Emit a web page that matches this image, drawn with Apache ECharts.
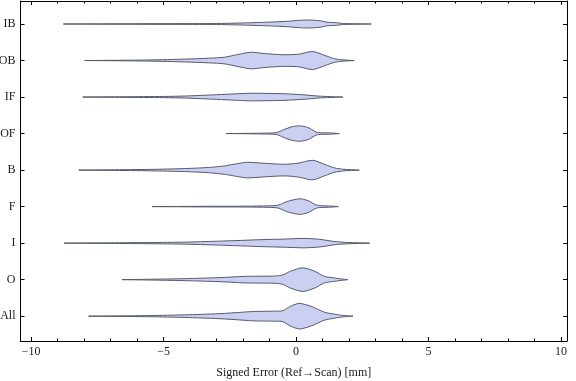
<!DOCTYPE html>
<html>
<head>
<meta charset="utf-8">
<script src="https://cdn.jsdelivr.net/npm/echarts@6/dist/echarts.min.js"></script>
<style>html,body{margin:0;padding:0;background:#fff}#c{width:576px;height:381px}</style>
</head>
<body>
<div id="c"></div>
<script>
// categories bottom -> top
const categories = ['All', 'O', 'I', 'F', 'B', 'OF', 'IF', 'OB', 'IB'];
const xTicks = [-10, -5, 0, 5, 10];
const xMinorTicks = [-10,-9,-8,-7,-6,-5,-4,-3,-2,-1,0,1,2,3,4,5,6,7,8,9,10];

// violin outlines: error positions (mm) and estimated density (relative half-width)
const allX = [-7.83, -6.5, -5.5, -4.2, -2.9, -2.0, -1.6, -0.8, -0.5, -0.2, 0.13, 0.6, 1.07, 1.45, 1.75, 2.15];
const allD = [0, 0.3, 0.6, 1.3, 2.5, 4.0, 4.7, 5.0, 5.5, 10, 12.8, 9.5, 4.0, 2.0, 0.8, 0];
const oX = [-6.57, -5.5, -4.2, -2.9, -2.0, -1.6, -0.8, -0.5, -0.2, 0.25, 0.7, 1.07, 1.45, 1.7, 1.96];
const oD = [0, 0.4, 1.0, 2.0, 3.2, 3.4, 3.6, 4.7, 8.5, 11.8, 8.5, 3.3, 1.7, 0.8, 0];
const iX = [-8.75, -7, -5.5, -4.2, -3, -2, -1.3, -0.5, 0.3, 0.9, 1.45, 2.0, 2.78];
const iD = [0, 0.3, 0.6, 1.0, 1.9, 2.8, 3.5, 4.0, 4.7, 3.8, 1.6, 0.6, 0];
const fX = [-5.43, -3.5, -2, -1, -0.66, -0.35, 0.13, 0.45, 0.76, 0.95, 1.3, 1.6];
const fD = [0, 0.3, 0.4, 0.8, 1.5, 5.0, 7.8, 6.0, 1.6, 0.9, 0.6, 0];
const bX = [-8.2, -7, -5.5, -4.2, -3.3, -2.7, -2.2, -1.83, -1.2, -0.45, 0.1, 0.63, 1.1, 1.45, 1.8, 2.39];
const bD = [0, 0.3, 0.7, 1.5, 2.6, 4.2, 6.5, 7.8, 6.8, 5.8, 7.0, 9.8, 5.5, 2.2, 0.8, 0];
const ofX = [-2.63, -1.5, -0.9, -0.7, -0.45, -0.15, 0.13, 0.4, 0.6, 0.76, 0.95, 1.3, 1.64];
const ofD = [0, 0.3, 0.6, 1.2, 4.0, 6.8, 7.7, 6.5, 4.0, 1.5, 0.8, 0.6, 0];
const ifX = [-8.05, -6.5, -5, -4.2, -3, -2.2, -1.7, -1, -0.45, 0.3, 0.83, 1.2, 1.77];
const ifD = [0, 0.3, 0.6, 1.0, 2.3, 3.3, 3.8, 3.6, 3.3, 2.2, 1.0, 0.5, 0];
const obX = [-7.98, -6.5, -5.5, -4.2, -3.3, -2.7, -2.2, -1.7, -1.2, -0.5, 0.1, 0.63, 1.1, 1.45, 1.7, 2.2];
const obD = [0, 0.3, 0.6, 1.4, 2.3, 3.3, 6.0, 8.3, 7.0, 5.8, 6.3, 9.0, 5.0, 1.8, 0.8, 0];
const ibX = [-8.78, -6, -4, -3, -2.2, -1.3, -0.45, 0.1, 0.44, 0.9, 1.2, 1.45, 1.8, 2.84];
const ibD = [0, 0.3, 0.4, 0.5, 0.9, 1.6, 2.5, 3.6, 4.0, 3.3, 1.7, 1.5, 0.5, 0];

const violins = [
  [allX, allD], [oX, oD], [iX, iD], [fX, fD], [bX, bD],
  [ofX, ofD], [ifX, ifD], [obX, obD], [ibX, ibD]
];
const densityToHalfWidth = 1 / 36.5; // category units per density unit

const chart = echarts.init(document.getElementById('c'), null, {renderer: 'canvas'});
const font = 'Liberation Serif';
const txt = '#1a1a1a';
const fmtX = v => v < 0 ? '\u2212' + Math.abs(v) : String(v);

const baseX = {
  type: 'value', min: -10.4, max: 10.23, gridIndex: 0,
  splitLine: {show: false},
  axisLine: {show: true, onZero: false, lineStyle: {color: '#000', width: 1}}
};
const baseY = {
  type: 'value', min: 0.32, max: 9.63,
  splitLine: {show: false},
  axisLine: {show: true, onZero: false, lineStyle: {color: '#000', width: 1}}
};

chart.setOption({
  animation: false,
  grid: {left: 20.5, right: 9, top: 1, bottom: 40, containLabel: false, outerBoundsMode: 'none'},
  xAxis: [
    Object.assign({}, baseX, {
      position: 'bottom',
      name: 'Signed Error (Ref\u2192Scan) [mm]', nameLocation: 'middle', nameGap: 26,
      nameTextStyle: {fontFamily: font, fontSize: 12, color: txt},
      axisTick: {show: true, inside: true, length: 4, customValues: xTicks, lineStyle: {color: '#000'}},
      axisLabel: {show: true, customValues: xTicks, formatter: fmtX, fontFamily: font, fontSize: 12, color: txt, margin: 5}
    }),
    Object.assign({}, baseX, {
      position: 'bottom', axisLine: {show: false},
      axisTick: {show: true, inside: true, length: 2.5, customValues: xMinorTicks, lineStyle: {color: '#000'}},
      axisLabel: {show: false}
    }),
    Object.assign({}, baseX, {
      position: 'top',
      axisTick: {show: true, inside: true, length: 4, customValues: xTicks, lineStyle: {color: '#000'}},
      axisLabel: {show: false}
    }),
    Object.assign({}, baseX, {
      position: 'top', axisLine: {show: false},
      axisTick: {show: true, inside: true, length: 2.5, customValues: xMinorTicks, lineStyle: {color: '#000'}},
      axisLabel: {show: false}
    })
  ],
  yAxis: [
    Object.assign({}, baseY, {
      position: 'left',
      axisTick: {show: true, inside: true, length: 4, customValues: [1,2,3,4,5,6,7,8,9], lineStyle: {color: '#000'}},
      axisLabel: {show: true, customValues: [1,2,3,4,5,6,7,8,9], formatter: v => categories[Math.round(v) - 1],
        fontFamily: font, fontSize: 12, color: txt, margin: 5}
    }),
    Object.assign({}, baseY, {
      position: 'right',
      axisTick: {show: true, inside: true, length: 4, customValues: [1,2,3,4,5,6,7,8,9], lineStyle: {color: '#000'}},
      axisLabel: {show: false}
    })
  ],
  series: [{
    type: 'custom',
    xAxisIndex: 0, yAxisIndex: 0,
    data: categories.map((c, i) => [i + 1]),
    renderItem: function (params, api) {
      const idx = params.dataIndex;
      const yc = api.value(0);
      const xs = violins[idx][0], ds = violins[idx][1];
      const pts = [];
      for (let k = 0; k < xs.length; k++) pts.push(api.coord([xs[k], yc + ds[k] * densityToHalfWidth]));
      for (let k = xs.length - 1; k >= 0; k--) pts.push(api.coord([xs[k], yc - ds[k] * densityToHalfWidth]));
      return {
        type: 'polygon',
        shape: {points: pts, smooth: 0.25},
        style: {fill: '#cbd0f3', stroke: '#55596a', lineWidth: 1}
      };
    }
  }]
});
</script>
</body>
</html>
